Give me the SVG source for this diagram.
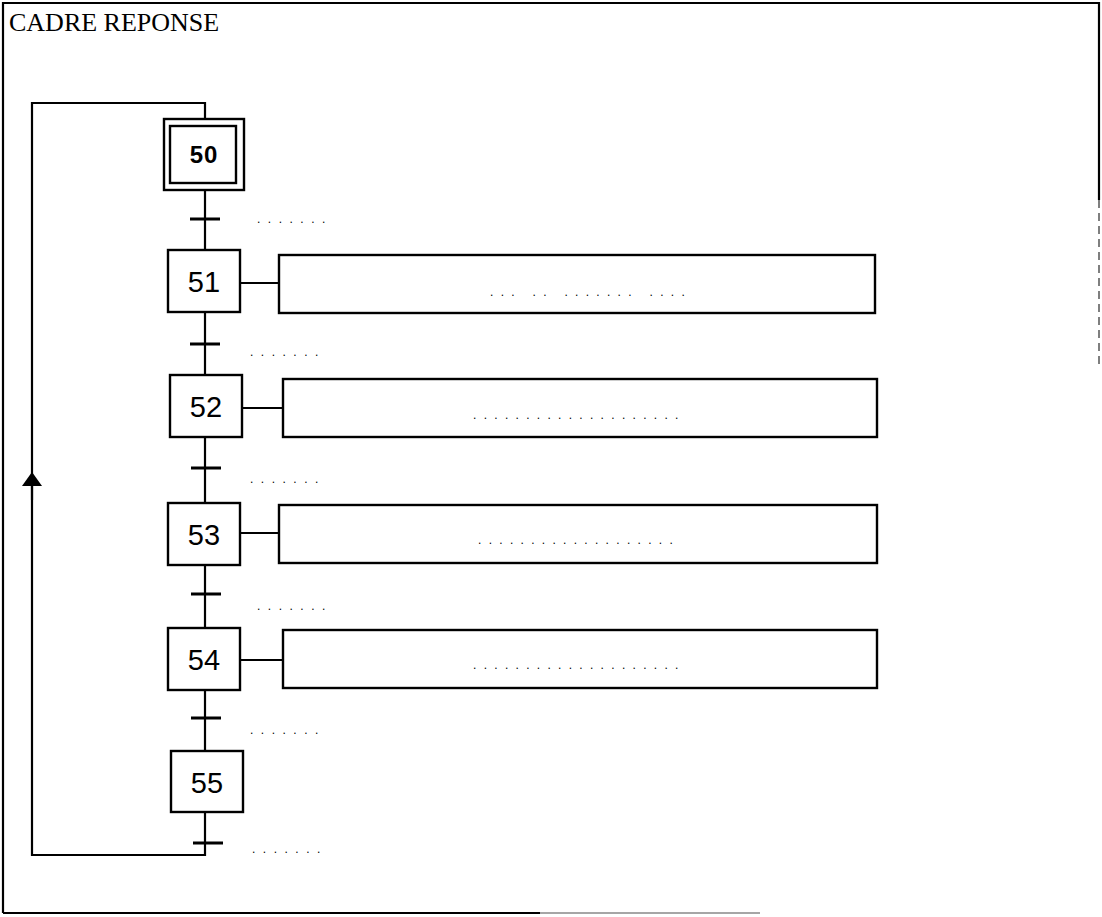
<svg xmlns="http://www.w3.org/2000/svg" width="1102" height="917" viewBox="0 0 1102 917">
<defs>
<style>
.ln{stroke:#000;stroke-width:2.2;fill:none}
.box{stroke:#000;stroke-width:2.4;fill:#fff}
.bar{stroke:#000;stroke-width:2.8}
.num{font-family:"Liberation Sans",Arial,sans-serif;font-size:29px;fill:#000;text-anchor:middle}
.num50{font-family:"Liberation Sans",Arial,sans-serif;font-size:24px;font-weight:bold;fill:#000;text-anchor:middle;letter-spacing:1px}
.title{font-family:"Liberation Serif","Times New Roman",serif;font-size:26px;fill:#000}
.dots{font-family:"Liberation Sans",Arial,sans-serif;font-size:12px;fill:#000;letter-spacing:7.5px}
.adots{font-family:"Liberation Sans",Arial,sans-serif;font-size:12px;fill:#000;letter-spacing:7.3px}
</style>
<marker id="arr" viewBox="0 0 14 20" refX="7" refY="10" markerWidth="14" markerHeight="20" markerUnits="userSpaceOnUse" orient="auto">
<path d="M0,0 L14,10 L0,20 Z" fill="#000"/>
</marker>
</defs>
<rect width="1102" height="917" fill="#fff"/>
<g id="frame">
<path class="ln" d="M3,913 L3,3 L1099,3 L1099,200"/>
<path d="M1099,200 L1099,365" stroke="#555" stroke-width="1.5" stroke-dasharray="8,5" fill="none"/>
<path class="ln" d="M3,913 L540,913"/>
<path d="M540,913 L760,913" stroke="#888" stroke-width="1.5" fill="none"/>
<text class="title" x="9" y="31">CADRE REPONSE</text>
</g>
<g id="connectors">
<path class="ln" d="M205,119 L205,103 L32,103 L32,855 L205,855 L205,812"/>
<path class="ln" d="M32,500 L32,479" marker-end="url(#arr)"/>
<path class="ln" d="M205,190 L205,250 M205,312 L205,375 M205,437 L205,503 M205,565 L205,628 M205,690 L205,751"/>
<path class="ln" d="M241,283 L279,283 M242,408 L283,408 M240,533 L279,533 M240,660 L283,660"/>
<path class="bar" d="M190,219 L220,219 M190,344 L220,344 M191,468 L221,468 M191,594 L221,594 M191,718 L221,718 M193,843 L223,843"/>
<text class="dots" x="257" y="223">.......</text>
<text class="dots" x="250" y="356">.......</text>
<text class="dots" x="250" y="483">.......</text>
<text class="dots" x="257" y="610">.......</text>
<text class="dots" x="250" y="734">.......</text>
<text class="dots" x="252" y="853">.......</text>
</g>
<g id="step50">
<rect class="box" x="164" y="119" width="80" height="71"/>
<rect class="box" x="170" y="126" width="66" height="57"/>
<text class="num50" x="204" y="163">50</text>
</g>
<g id="step51">
<rect class="box" x="168" y="250" width="72" height="62"/>
<text class="num" x="204" y="292">51</text>
</g>
<g id="action51">
<rect class="box" x="279" y="255" width="596" height="58"/>
<text class="adots" x="490" y="296">...  ..  .......  ....</text>
</g>
<g id="step52">
<rect class="box" x="170" y="375" width="72" height="62"/>
<text class="num" x="206" y="417">52</text>
</g>
<g id="action52">
<rect class="box" x="283" y="379" width="594" height="58"/>
<text class="adots" x="473" y="419">....................</text>
</g>
<g id="step53">
<rect class="box" x="168" y="503" width="72" height="62"/>
<text class="num" x="204" y="545">53</text>
</g>
<g id="action53">
<rect class="box" x="279" y="505" width="598" height="58"/>
<text class="adots" x="478" y="544">...................</text>
</g>
<g id="step54">
<rect class="box" x="168" y="628" width="72" height="62"/>
<text class="num" x="204" y="670">54</text>
</g>
<g id="action54">
<rect class="box" x="283" y="630" width="594" height="58"/>
<text class="adots" x="473" y="669">....................</text>
</g>
<g id="step55">
<rect class="box" x="171" y="751" width="72" height="61"/>
<text class="num" x="207" y="793">55</text>
</g>
</svg>
